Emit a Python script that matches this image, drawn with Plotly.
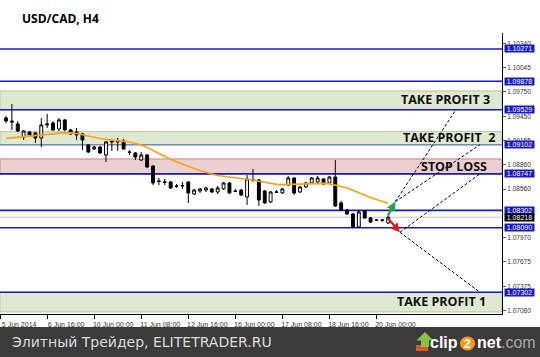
import plotly.graph_objects as go

# ---------------- data ----------------
BAR = list(range(66))  # H4 bars, 5 Jun 2014 .. 20 Jun 2014 08:00

OPEN = [1.09429, 1.09392, 1.09356, 1.09197, 1.09258, 1.09246, 1.09185, 1.09344, 1.09368, 1.09295,
        1.09405, 1.09283, 1.09258, 1.09234, 1.09100, 1.09051, 1.09075, 1.08977, 1.09136, 1.09136,
        1.09148, 1.09014, 1.09002, 1.08916, 1.08977, 1.08843, 1.08660, 1.08648, 1.08648, 1.08599,
        1.08599, 1.08648, 1.08502, 1.08538, 1.08550, 1.08563, 1.08526, 1.08563, 1.08636, 1.08538,
        1.08550, 1.08465, 1.08672, 1.08672, 1.08538, 1.08404, 1.08526, 1.08514, 1.08611, 1.08697,
        1.08526, 1.08587, 1.08636, 1.08648, 1.08685, 1.08636, 1.08709, 1.08392, 1.08306, 1.08258,
        1.08099, 1.08294, 1.08209, 1.08184, 1.08180, 1.08148]
HIGH = [1.09453, 1.09600, 1.09392, 1.09283, 1.09270, 1.09258, 1.09429, 1.09478, 1.09392, 1.09429,
        1.09417, 1.09295, 1.09307, 1.09246, 1.09112, 1.09087, 1.09087, 1.09148, 1.09161, 1.09185,
        1.09173, 1.09038, 1.09014, 1.09014, 1.08990, 1.08855, 1.08697, 1.08685, 1.08660, 1.08624,
        1.08648, 1.08660, 1.08563, 1.08575, 1.08587, 1.08575, 1.08599, 1.08648, 1.08648, 1.08563,
        1.08563, 1.08733, 1.08807, 1.08685, 1.08550, 1.08538, 1.08550, 1.08575, 1.08721, 1.08709,
        1.08599, 1.08648, 1.08709, 1.08721, 1.08697, 1.08721, 1.08916, 1.08416, 1.08319, 1.08270,
        1.08306, 1.08306, 1.08221, 1.08197, 1.08197, 1.08233]
LOW = [1.09368, 1.09283, 1.09258, 1.09161, 1.09209, 1.09124, 1.09075, 1.09307, 1.09270, 1.09270,
       1.09270, 1.09222, 1.09161, 1.09038, 1.09002, 1.09038, 1.08990, 1.08892, 1.09026, 1.09026,
       1.09038, 1.08977, 1.08916, 1.08904, 1.08819, 1.08611, 1.08611, 1.08611, 1.08563, 1.08575,
       1.08563, 1.08392, 1.08489, 1.08514, 1.08526, 1.08514, 1.08502, 1.08550, 1.08502, 1.08526,
       1.08477, 1.08367, 1.08648, 1.08355, 1.08380, 1.08392, 1.08514, 1.08502, 1.08599, 1.08489,
       1.08514, 1.08575, 1.08624, 1.08624, 1.08611, 1.08624, 1.08343, 1.08294, 1.08245, 1.08087,
       1.08087, 1.08197, 1.08148, 1.08172, 1.08160, 1.08136]
CLOSE = [1.09392, 1.09380, 1.09270, 1.09270, 1.09222, 1.09185, 1.09344, 1.09356, 1.09283, 1.09405,
         1.09283, 1.09234, 1.09222, 1.09161, 1.09014, 1.09075, 1.09002, 1.09136, 1.09142, 1.09148,
         1.09051, 1.09010, 1.08953, 1.08977, 1.08831, 1.08636, 1.08656, 1.08644, 1.08575, 1.08595,
         1.08605, 1.08514, 1.08550, 1.08563, 1.08575, 1.08526, 1.08575, 1.08636, 1.08514, 1.08534,
         1.08489, 1.08685, 1.08676, 1.08428, 1.08392, 1.08526, 1.08522, 1.08563, 1.08697, 1.08514,
         1.08587, 1.08636, 1.08697, 1.08697, 1.08624, 1.08709, 1.08355, 1.08306, 1.08258, 1.08099,
         1.08282, 1.08209, 1.08160, 1.08180, 1.08184, 1.08218]
MA = [1.09179, 1.09185, 1.09191, 1.09197, 1.09203, 1.09209, 1.09218, 1.09228, 1.09236, 1.09244,
      1.09248, 1.09248, 1.09240, 1.09224, 1.09206, 1.09191, 1.09179, 1.09169, 1.09161, 1.09155,
      1.09148, 1.09136, 1.09120, 1.09100, 1.09069, 1.09032, 1.08990, 1.08955, 1.08925, 1.08894,
      1.08864, 1.08837, 1.08813, 1.08788, 1.08764, 1.08746, 1.08727, 1.08718, 1.08709, 1.08701,
      1.08693, 1.08685, 1.08672, 1.08657, 1.08642, 1.08630, 1.08618, 1.08615, 1.08618, 1.08620,
      1.08624, 1.08629, 1.08632, 1.08632, 1.08632, 1.08624, 1.08611, 1.08593, 1.08575, 1.08544,
      1.08514, 1.08486, 1.08459, 1.08435, 1.08410, 1.08388]

TICK_BARS = [-1, 7, 15, 23, 31, 39, 47, 55, 63]
TICK_TEXT = ["5 Jun 2014", "6 Jun 16:00", "10 Jun 00:00", "11 Jun 08:00", "12 Jun 16:00",
             "16 Jun 00:00", "17 Jun 08:00", "18 Jun 16:00", "20 Jun 00:00"]
Y_TICKS = [1.10340, 1.10045, 1.09750, 1.09450, 1.09155, 1.08860, 1.08560,
           1.07970, 1.07675, 1.07375, 1.07080]

LEVELS = [1.10271, 1.09878, 1.09529, 1.09102, 1.08747, 1.08302, 1.08090, 1.07302]
BID = 1.08218

ZONE_NAMES = ["TAKE PROFIT 3", "TAKE PROFIT  2", "STOP LOSS", "TAKE PROFIT 1"]
ZONE_LOW = [1.09529, 1.09102, 1.08747, 1.07062]
ZONE_HIGH = [1.09759, 1.09262, 1.08929, 1.07302]
ZONE_TEXT_Y = [1.09649, 1.09185, 1.08837, 1.07184]

ARROW_START = (64.8, 1.08218)
ARROW_UP = (66.2, 1.08408)
ARROW_DOWN = (67.0, 1.08034)
DASH_FROM = ["up", "up", "down", "down"]
DASH_TO_BAR = [76.5, 80.6, 80.6, 80.6]
DASH_TO_PRICE = [1.09529, 1.09102, 1.08747, 1.07302]

# ---------------- layout geometry ----------------
W, H = 540, 357
ML, MR, MT, MB = 0, 38, 33, 43
PW, PH = W - ML - MR, H - MT - MB


def px_x(X):
    return (X - ML) / PW


def px_y(Y):
    return (H - MB - Y) / PH


BLUE = "#1a1ac8"
fig = go.Figure()

fig.add_trace(go.Candlestick(
    x=BAR, open=OPEN, high=HIGH, low=LOW, close=CLOSE,
    increasing=dict(line=dict(color="black", width=1), fillcolor="white"),
    decreasing=dict(line=dict(color="black", width=1), fillcolor="black"),
    whiskerwidth=0, hoverinfo="skip", showlegend=False))

fig.add_trace(go.Scatter(x=BAR, y=MA, mode="lines",
                         line=dict(color="#f7a313", width=1.7),
                         hoverinfo="skip", showlegend=False))

for src, tb, tp in zip(DASH_FROM, DASH_TO_BAR, DASH_TO_PRICE):
    s = ARROW_UP if src == "up" else ARROW_DOWN
    fig.add_trace(go.Scatter(x=[s[0], tb], y=[s[1], tp], mode="lines",
                             line=dict(color="black", width=1, dash="3px,2px"),
                             hoverinfo="skip", showlegend=False))

shapes = []
for i, (lo, hi) in enumerate(zip(ZONE_LOW, ZONE_HIGH)):
    sl = ZONE_NAMES[i] == "STOP LOSS"
    shapes.append(dict(type="rect", xref="paper", x0=0, x1=1, yref="y", y0=lo, y1=hi,
                       fillcolor="#eccfcf" if sl else "#dfe9d1",
                       line=dict(color="#c98484" if sl else "#b3c79a", width=1),
                       layer="below"))
for lv in LEVELS:
    col = "#7889b6" if lv == 1.09102 else BLUE
    shapes.append(dict(type="line", xref="paper", x0=0, x1=1, yref="y", y0=lv, y1=lv,
                       line=dict(color=col, width=1.6), layer="below"))
shapes.append(dict(type="line", xref="paper", x0=0, x1=1, yref="y", y0=BID, y1=BID,
                   line=dict(color="#c4c4c4", width=1), layer="below"))

# footer band
shapes.append(dict(type="rect", xref="paper", yref="paper", x0=px_x(-5), x1=px_x(545),
                   y0=px_y(362), y1=px_y(327), fillcolor="#3b3b3b", line=dict(width=0),
                   layer="above"))


def path(pts):
    return "M " + " L ".join(f"{px_x(a):.5f},{px_y(b):.5f}" for a, b in pts) + " Z"


# clip2net icon
shapes.append(dict(type="path", xref="paper", yref="paper",
                   path=path([(416, 345), (428, 345), (428, 351), (416, 351)]),
                   fillcolor="#e4561e", line=dict(width=0), layer="above"))
shapes.append(dict(type="path", xref="paper", yref="paper",
                   path=path([(425, 332), (433.5, 340.5), (429, 340.5), (429, 347),
                              (421, 347), (421, 340.5), (416.5, 340.5)]),
                   fillcolor="#86c440", line=dict(width=0), layer="above"))
shapes.append(dict(type="circle", xref="paper", yref="paper",
                   x0=px_x(460), x1=px_x(475), y0=px_y(350.5), y1=px_y(336.5),
                   fillcolor="#f59a1f", line=dict(width=0), layer="above"))

ann = []
ann.append(dict(text="<b>USD/CAD, H4</b>", xref="paper", yref="paper", x=px_x(20), y=px_y(18),
                xanchor="left", yanchor="middle", showarrow=False,
                font=dict(family="Open Sans", size=12, color="black")))
ZONE_RIGHT = [492, 497, 489, 488]
for name, ty, right in zip(ZONE_NAMES, ZONE_TEXT_Y, ZONE_RIGHT):
    ann.append(dict(text=f"<b>{name}</b>", xref="paper", yref="y", x=px_x(right), y=ty,
                    xanchor="right", yanchor="middle", showarrow=False,
                    font=dict(family="Open Sans", size=12.5, color="#111")))
for lv in LEVELS:
    ann.append(dict(text=f"{lv:.5f}", xref="paper", yref="y", x=px_x(504), y=lv,
                    xanchor="left", yanchor="middle", showarrow=False, bgcolor=BLUE,
                    width=29, height=6.5, borderpad=0,
                    font=dict(family="Liberation Sans", size=7, color="white")))
ann.append(dict(text=f"{BID:.5f}", xref="paper", yref="y", x=px_x(504), y=BID,
                xanchor="left", yanchor="middle", showarrow=False, bgcolor="black",
                width=29, height=6.5, borderpad=0,
                font=dict(family="Liberation Sans", size=7, color="white")))
# arrows
for tip, col in ((ARROW_UP, "#1ea64a"), (ARROW_DOWN, "#e31b1b")):
    ann.append(dict(text="", x=tip[0], y=tip[1], xref="x", yref="y",
                    ax=ARROW_START[0], ay=ARROW_START[1], axref="x", ayref="y",
                    showarrow=True, arrowhead=2, arrowsize=0.75, arrowwidth=2.4,
                    arrowcolor=col, standoff=0, startstandoff=0))
# footer texts
ann.append(dict(text="Элитный Трейдер, ELITETRADER.RU", xref="paper", yref="paper",
                x=px_x(10), y=px_y(342), xanchor="left", yanchor="middle", showarrow=False,
                font=dict(family="DejaVu Sans", size=14, color="#dcdcdc")))
ann.append(dict(text="<b>clip</b>", xref="paper", yref="paper", x=px_x(460), y=px_y(342),
                xanchor="right", yanchor="middle", showarrow=False,
                font=dict(family="Liberation Sans", size=16, color="white")))
ann.append(dict(text="<b>2</b>", xref="paper", yref="paper", x=px_x(467.5), y=px_y(343.5),
                xanchor="center", yanchor="middle", showarrow=False,
                font=dict(family="Liberation Sans", size=12, color="white")))
ann.append(dict(text="<b>net</b><span style='color:#a8a8a8'>.com</span>", xref="paper",
                yref="paper", x=px_x(475), y=px_y(342), xanchor="left", yanchor="middle",
                showarrow=False, font=dict(family="Liberation Sans", size=16, color="white")))

fig.update_layout(
    width=W, height=H, margin=dict(l=ML, r=MR, t=MT, b=MB),
    paper_bgcolor="white", plot_bgcolor="white",
    shapes=shapes, annotations=ann, showlegend=False, hovermode=False,
    boxgap=0.3,
    xaxis=dict(range=[-1.02, 84.35], showgrid=False, zeroline=False, showline=True,
               linecolor="black", linewidth=1, ticks="outside", ticklen=4,
               tickcolor="black", tickvals=TICK_BARS, ticktext=TICK_TEXT,
               ticklabelshift=19, ticklabelstandoff=0,
               tickfont=dict(family="Liberation Sans Narrow, Arial Narrow, Liberation Sans",
                             size=7, color="#333"),
               rangeslider=dict(visible=False), fixedrange=True),
    yaxis=dict(range=[1.07037, 1.10466], side="right", showgrid=False, zeroline=False,
               showline=True, linecolor="black", linewidth=1, ticks="outside",
               ticklen=3, tickcolor="#555", tickvals=Y_TICKS, tickformat=".5f",
               tickfont=dict(family="Liberation Sans", size=6.5, color="#333"),
               fixedrange=True),
)

fig.write_html("out.html", config={"displayModeBar": False})
